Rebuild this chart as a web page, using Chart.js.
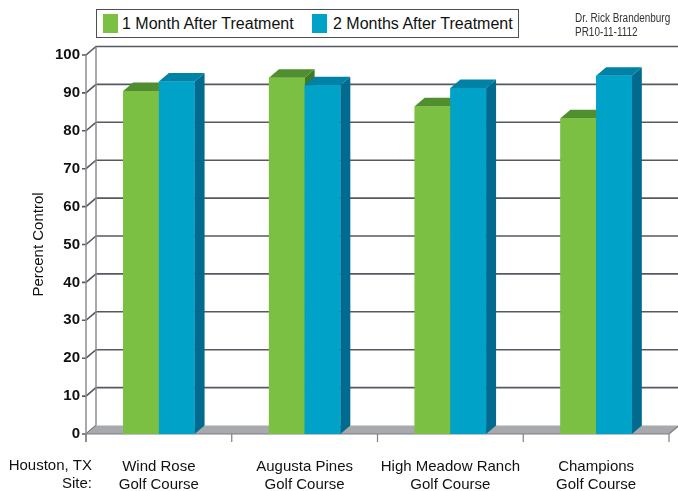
<!DOCTYPE html>
<html>
<head>
<meta charset="utf-8">
<script src="https://cdn.jsdelivr.net/npm/chart.js@4.4.0/dist/chart.umd.min.js"></script>
<style>
  body { margin: 0; background: #fff; font-family: "Liberation Sans", Arial, sans-serif; }
  #wrap { position: relative; width: 678px; height: 491px; }
  #legend { position: absolute; left: 96px; top: 9px; width: 421px; height: 27px; border: 1px solid #4d4f55; background: #fff; }
  #legend .sw { position: absolute; top: 4px; width: 15px; height: 19px; }
  #legend .tx { position: absolute; top: 4px; font-size: 16px; line-height: 19px; color: #111; white-space: nowrap; }
  #note { position: absolute; left: 575px; top: 11px; font-size: 12px; line-height: 14px; color: #333; transform: scaleX(0.83); transform-origin: left top; white-space: nowrap; }
</style>
</head>
<body>
<div id="wrap">
  <canvas id="chart" width="678" height="491"></canvas>
  <div id="legend">
    <span class="sw" style="left:6px;background:#7bbf43"></span><span class="tx" style="left:25px">1 Month After Treatment</span>
    <span class="sw" style="left:215px;background:#00a2c8"></span><span class="tx" style="left:236px">2 Months After Treatment</span>
  </div>
  <div id="note">Dr. Rick Brandenburg<br>PR10-11-1112</div>
</div>
<script>
// data
const sites = [['Wind Rose', 'Golf Course'], ['Augusta Pines', 'Golf Course'], ['High Meadow Ranch', 'Golf Course'], ['Champions', 'Golf Course']];
const oneMonth = [90.5, 94, 86.5, 83.3];
const twoMonths = [93, 92, 91.3, 94.5];
const yTicks = [0, 10, 20, 30, 40, 50, 60, 70, 80, 90, 100];

const DX = 10, DY = -8.5;

function poly(ctx, pts, color) {
  ctx.fillStyle = color;
  ctx.beginPath();
  ctx.moveTo(pts[0][0], pts[0][1]);
  for (let i = 1; i < pts.length; i++) ctx.lineTo(pts[i][0], pts[i][1]);
  ctx.closePath();
  ctx.fill();
}

const depth3d = {
  id: 'depth3d',
  beforeDatasetsDraw(chart) {
    const { ctx, chartArea: a, scales: { x, y } } = chart;
    const b = y.getPixelForValue(0);
    ctx.save();
    // back wall grid + left wall
    ctx.strokeStyle = '#565961';
    ctx.lineWidth = 1.6;
    yTicks.forEach(v => {
      const py = y.getPixelForValue(v);
      ctx.beginPath();
      ctx.moveTo(a.left - 4, py);
      ctx.lineTo(a.left, py);
      ctx.lineTo(a.left + DX, py + DY);
      if (v > 0) ctx.lineTo(a.right + DX, py + DY);
      ctx.stroke();
    });
    ctx.strokeStyle = '#8b8d92';
    ctx.lineWidth = 1.5;
    ctx.beginPath();
    ctx.moveTo(a.left, y.getPixelForValue(100));
    ctx.lineTo(a.left, b + 8);
    ctx.moveTo(a.left + DX, y.getPixelForValue(100) + DY);
    ctx.lineTo(a.left + DX, b + DY);
    ctx.stroke();
    // floor
    poly(ctx, [[a.left, b], [a.right, b], [a.right + DX, b + DY], [a.left + DX, b + DY]], '#a7a9ac');
    ctx.strokeStyle = '#7d7f84';
    ctx.lineWidth = 1.2;
    ctx.beginPath();
    ctx.moveTo(a.left, b);
    ctx.lineTo(a.right, b);
    ctx.lineTo(a.right + DX, b + DY);
    for (let i = 0; i <= sites.length; i++) {
      const px = x.getPixelForValue(i - 0.5);
      ctx.moveTo(px, b);
      ctx.lineTo(px, b + 8);
    }
    ctx.stroke();
    ctx.restore();
  },
  afterDatasetsDraw(chart) {
    const { ctx } = chart;
    const metas = [chart.getDatasetMeta(0), chart.getDatasetMeta(1)];
    ctx.save();
    for (let i = 0; i < sites.length; i++) {
      metas.forEach((meta, d) => {
        const ds = chart.data.datasets[d];
        const bar = meta.data[i];
        const { x, y, base, width } = bar.getProps(['x', 'y', 'base', 'width'], true);
        const l = x - width / 2, r = x + width / 2;
        poly(ctx, [[r, y], [r + DX, y + DY], [r + DX, base + DY], [r, base]], ds.sideColor);
        poly(ctx, [[l, y], [r, y], [r + DX, y + DY], [l + DX, y + DY]], ds.topColor);
        bar.draw(ctx);
      });
    }
    ctx.restore();
  },
  afterDraw(chart) {
    const { ctx } = chart;
    ctx.save();
    ctx.font = '15px "Liberation Sans", Arial, sans-serif';
    ctx.fillStyle = '#111';
    ctx.textAlign = 'right';
    ctx.textBaseline = 'middle';
    ctx.fillText('Houston, TX', 92, 466);
    ctx.fillText('Site:', 92, 484);
    ctx.restore();
  }
};

new Chart(document.getElementById('chart'), {
  type: 'bar',
  data: {
    labels: sites,
    datasets: [{
      label: '1 Month After Treatment',
      data: oneMonth,
      backgroundColor: '#7bbf43',
      topColor: '#4f8f2f',
      sideColor: '#3f7a26',
      borderWidth: 0
    }, {
      label: '2 Months After Treatment',
      data: twoMonths,
      backgroundColor: '#00a2c8',
      topColor: '#0081a6',
      sideColor: '#006b8f',
      borderWidth: 0
    }]
  },
  options: {
    responsive: false,
    animation: false,
    events: [],
    categoryPercentage: 0.49,
    barPercentage: 1.0,
    layout: { padding: { top: 55, right: 9, left: 0, bottom: 0 } },
    plugins: {
      legend: { display: false },
      tooltip: { enabled: false }
    },
    scales: {
      x: {
        grid: { display: false, drawTicks: false },
        border: { display: false },
        ticks: {
          padding: 24,
          color: '#111',
          font: { family: '"Liberation Sans", Arial, sans-serif', size: 15 },
          maxRotation: 0,
          autoSkip: false
        },
        afterFit: s => { s.height = 57; }
      },
      y: {
        min: 0,
        max: 100,
        grid: { display: false, drawTicks: false },
        border: { display: false },
        ticks: {
          stepSize: 10,
          padding: 6,
          color: '#111',
          font: { family: '"Liberation Sans", Arial, sans-serif', size: 15, weight: 'bold' }
        },
        title: {
          display: true,
          text: 'Percent Control',
          color: '#111',
          font: { family: '"Liberation Sans", Arial, sans-serif', size: 15 },
          padding: { top: 30, bottom: 0 }
        },
        afterFit: s => { s.width = 86; }
      }
    }
  },
  plugins: [depth3d]
});
</script>
</body>
</html>
